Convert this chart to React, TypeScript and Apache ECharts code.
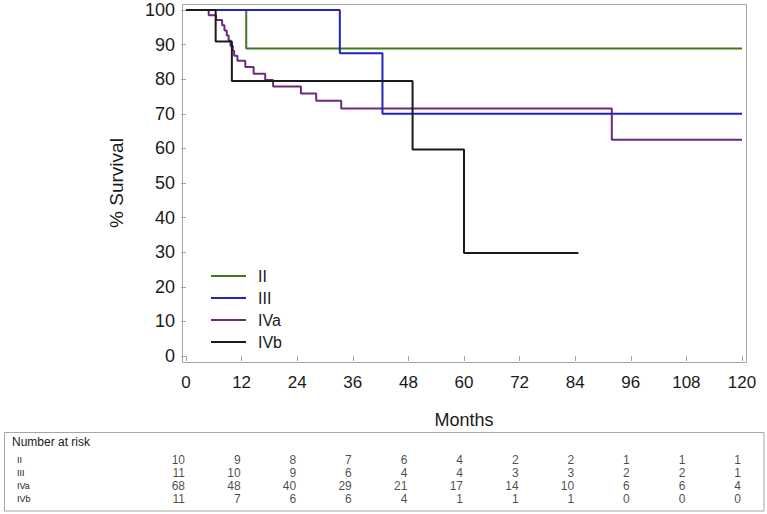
import React, { useEffect, useRef } from "react";
import * as echarts from "echarts";

const groups = ["II", "III", "IVa", "IVb"];
const colors = ["#3f7a22", "#2323bd", "#6b2a80", "#1a1a1a"];

// Kaplan-Meier step points: [month, % survival]
const survII: [number, number][] = [[0, 100], [13, 88.9], [120, 88.9]];
const survIII: [number, number][] = [[0, 100], [33.2, 87.5], [42.4, 70], [120, 70]];
const survIVa: [number, number][] = [
  [0, 100], [4.9, 98.5], [6.5, 97.1], [7.8, 95.6], [8.3, 94.1], [8.8, 92.6],
  [9.2, 91.2], [9.6, 89.7], [10.1, 88.2], [10.4, 86.8], [11.1, 85.3],
  [12.8, 83.5], [14.6, 81.6], [17.1, 79.8], [18.8, 77.9], [24.8, 75.9],
  [28.1, 73.8], [33.5, 71.5], [91.9, 62.5], [120, 62.5],
];
const survIVb: [number, number][] = [[0, 100], [6.4, 90.9], [9.9, 79.5], [48.9, 59.7], [60, 29.8], [84.7, 29.8]];

const riskMonths = [0, 12, 24, 36, 48, 60, 72, 84, 96, 108, 120];
const riskII = [10, 9, 8, 7, 6, 4, 2, 2, 1, 1, 1];
const riskIII = [11, 10, 9, 6, 4, 4, 3, 3, 2, 2, 1];
const riskIVa = [68, 48, 40, 29, 21, 17, 14, 10, 6, 6, 4];
const riskIVb = [11, 7, 6, 6, 4, 1, 1, 1, 0, 0, 0];

const FONT = "'Liberation Sans', Arial, sans-serif";
const GRAY = "#a6a6a6";
const TXT = "#1a1a1a";

export default function App() {
  const ref = useRef<HTMLDivElement>(null);
  useEffect(() => {
    if (!ref.current) return;
    const chart = echarts.init(ref.current, undefined, { renderer: "svg" });
    const survs = [survII, survIII, survIVa, survIVb];
    const risks = [riskII, riskIII, riskIVa, riskIVb];
    const drawOrder = [0, 2, 1, 3];
    const lineSeries = drawOrder.map((i) => ({
      type: "line",
      name: groups[i],
      xAxisIndex: 0,
      yAxisIndex: 0,
      data: survs[i],
      step: "end",
      symbol: "none",
      color: colors[i],
      lineStyle: { width: 2, color: colors[i] },
      z: 2 + drawOrder.indexOf(i),
    }));
    const riskData: any[] = [];
    risks.forEach((arr, r) => {
      arr.forEach((v, k) => riskData.push([riskMonths[k], groups[r], v]));
    });
    chart.setOption({
      animation: false,
      textStyle: { fontFamily: FONT },
      grid: [
        { left: 186, top: 10, width: 556, height: 346 },
        { left: 186, top: 453, width: 556, height: 52.4 },
      ],
      legend: {
        data: groups,
        orient: "vertical",
        left: 206,
        top: 263,
        icon: "rect",
        itemWidth: 35,
        itemHeight: 2,
        itemGap: 6,
        textStyle: { fontSize: 16, color: TXT, fontFamily: FONT, lineHeight: 16, padding: [0, 0, 0, 7] },
      },
      xAxis: [
        {
          type: "value",
          gridIndex: 0,
          min: 0,
          max: 120,
          interval: 12,
          offset: 6,
          name: "Months",
          nameLocation: "middle",
          nameGap: 49,
          nameTextStyle: { fontSize: 18, color: TXT, fontFamily: FONT },
          axisLine: { show: false },
          axisTick: { show: true, length: 5, lineStyle: { color: GRAY } },
          axisLabel: { fontSize: 17, color: TXT, margin: 12, fontFamily: FONT },
          splitLine: { show: false },
        },
        {
          type: "value",
          gridIndex: 1,
          min: 0,
          max: 120,
          show: false,
        },
      ],
      yAxis: [
        {
          type: "value",
          gridIndex: 0,
          min: 0,
          max: 100,
          interval: 10,
          offset: 4,
          name: "% Survival",
          nameLocation: "middle",
          nameGap: 56,
          nameTextStyle: { fontSize: 19, color: TXT, fontFamily: FONT },
          axisLine: { show: false },
          axisTick: { show: true, length: 5, lineStyle: { color: GRAY } },
          axisLabel: { fontSize: 18, color: TXT, margin: 7, fontFamily: FONT },
          splitLine: { show: false },
        },
        {
          type: "category",
          gridIndex: 1,
          data: groups,
          inverse: true,
          axisLine: { show: false },
          axisTick: { show: false },
          axisLabel: { align: "left", margin: 169, fontSize: 9, color: TXT, fontFamily: FONT },
        },
      ],
      series: [
        ...lineSeries,
        {
          type: "scatter",
          xAxisIndex: 1,
          yAxisIndex: 1,
          data: riskData,
          symbolSize: 0,
          silent: true,
          label: {
            show: true,
            position: "left",
            distance: 1,
            fontSize: 12,
            color: TXT,
            fontFamily: FONT,
            formatter: (p: any) => String(p.value[2]),
          },
        },
      ],
      graphic: [
        {
          type: "rect",
          shape: { x: 182.5, y: 4.5, width: 564, height: 358 },
          style: { fill: "none", stroke: GRAY, lineWidth: 1 },
          silent: true,
          z: 0,
        },
        {
          type: "rect",
          shape: { x: 4.5, y: 432.5, width: 759.5, height: 78.5 },
          style: { fill: "none", stroke: GRAY, lineWidth: 1 },
          silent: true,
        },
        {
          type: "text",
          left: 12,
          top: 436,
          style: { text: "Number at risk", fontSize: 12, fill: TXT, fontFamily: FONT },
        },
      ],
    });
    return () => chart.dispose();
  }, []);
  return (
    <div
      ref={ref}
      style={{ position: "fixed", left: 0, top: 0, width: 767, height: 514, background: "#fff" }}
    />
  );
}
